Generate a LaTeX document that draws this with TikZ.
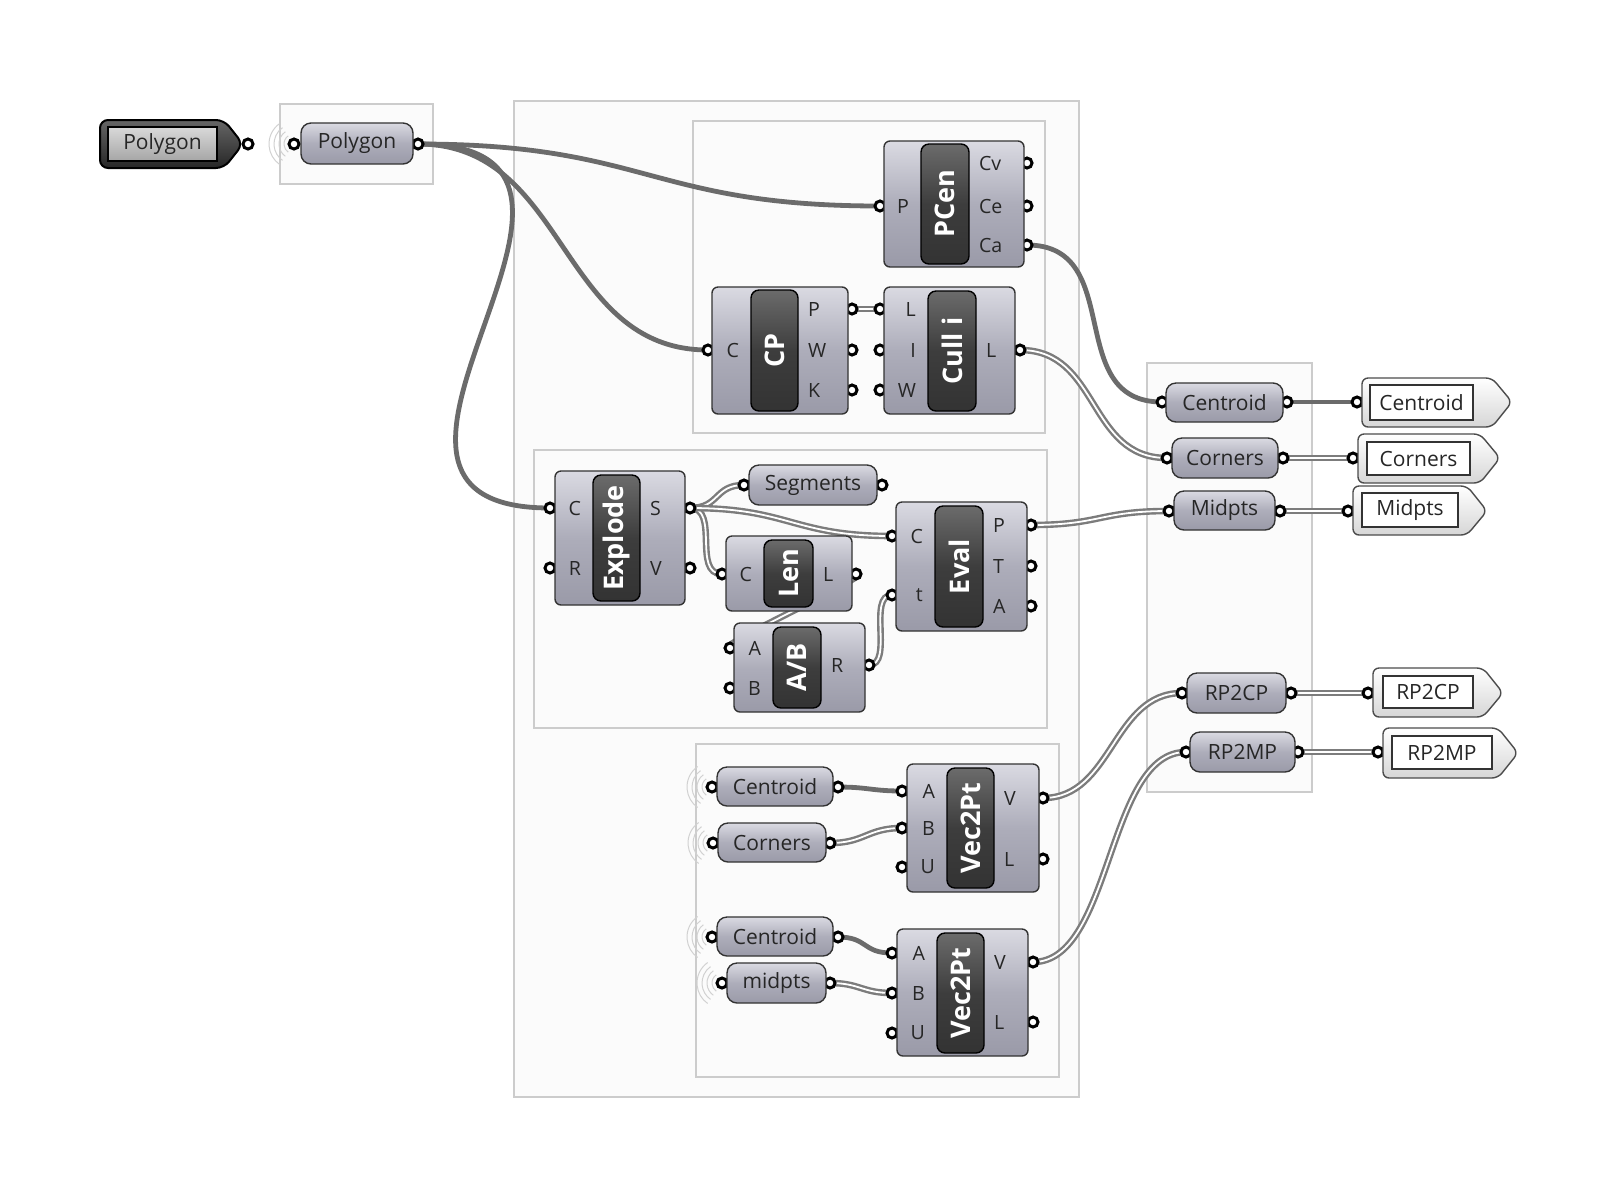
\documentclass[tikz,border=0pt]{standalone}
\usepackage{fontspec}
\setmainfont{Open Sans}
\usetikzlibrary{calc,fit}

\definecolor{ghtop}{HTML}{DADAE2}
\definecolor{ghmid}{HTML}{ADADBA}
\definecolor{ghbot}{HTML}{9A9AA8}
\definecolor{wiregray}{HTML}{6B6B6B}
\definecolor{listgray}{HTML}{7C7C7C}

\pgfdeclarelayer{groups}
\pgfdeclarelayer{wires}
\pgfsetlayers{groups,wires,main}

\newcommand\ghport[2]{\coordinate (#1) at (#2); \draw[port] (#1) circle (2.5pt);}
\newcommand\ghcomp[4]{%
  \node[comp, fit={#2}] (#1) {};
  \node[core, fit={#3}] (#1-c) {};
  \node[ctitle] (#1-t) at (#1-c.center) {#4};}
\newcommand\ghparam[3]{\node[param, fit={#2}, label={[ptext]center:#3}] (#1) {};}
\newcommand\ghin[3]{\node[plabel, anchor=east, xshift=-5.5pt] (#2-l) at (#1-c.west |- #2) {#3};}
\newcommand\ghout[3]{\node[plabel, anchor=west, xshift=4.5pt] (#2-l) at (#1-c.east |- #2) {#3};}
\newcommand\ghrings[1]{\foreach \r in {5,7.5,10,12.5} \draw[ring] ($(#1)+(125:\r pt)$) arc (125:235:\r pt);}

\begin{document}
\begin{tikzpicture}[x=0.5pt, y=-0.5pt,
    grp/.style={draw=black!20, line width=0.8pt, fill=black!1.5},
    comp/.style={draw=black!80, line width=0.7pt, rounded corners=3pt, inner sep=0pt,
      top color=ghtop, bottom color=ghbot, middle color=ghmid},
    param/.style={comp, rounded corners=5pt},
    ptext/.style={inner sep=0pt, text=black!85, font=\fontsize{10.5}{12}\selectfont},
    core/.style={draw=black, line width=0.7pt, rounded corners=4pt, inner sep=0pt,
      top color=black!58, bottom color=black!80, middle color=black!76},
    ctitle/.style={rotate=90, text=white, inner sep=0pt, font=\bfseries\fontsize{13.5}{14}\selectfont},
    plabel/.style={inner sep=0pt, text=black!85, font=\fontsize{9.8}{10}\selectfont},
    port/.style={draw=black, line width=1.5pt, fill=white},
    ring/.style={draw=black!18, line width=0.5pt},
    wire/.style={draw=wiregray, line width=2.4pt},
    lwire/.style={draw=listgray, line width=1.2pt, double=white, double distance=0.9pt},
    src/.style={draw=black, line width=1pt, rounded corners=4pt, top color=black!60, bottom color=black!85},
    srcbox/.style={draw=black, line width=0.8pt, inner sep=0pt, top color=black!15, bottom color=black!35},
    panel/.style={draw=black!70, line width=0.7pt, rounded corners=3pt, top color=white, bottom color=black!16},
    pbox/.style={draw=black!80, line width=0.6pt, fill=white, inner sep=0pt}]

\useasboundingbox (0,0) rectangle (1622,1196);

\begin{pgfonlayer}{groups}
\fill[white] (0,0) rectangle (1622,1196);
\draw[grp] (280,104) rectangle (433,184);
\draw[grp] (514,101) rectangle (1079,1097);
\draw[grp] (693,121) rectangle (1045,433);
\draw[grp] (534,450) rectangle (1047,728);
\draw[grp] (696,744) rectangle (1059,1077);
\draw[grp] (1147,363) rectangle (1312,792);
\end{pgfonlayer}

% polygon source and parameter
\ghport{Src-out}{248,144}
\draw[src] (100,120) -- (224,120) -- (243,144) -- (224,168) -- (100,168) -- cycle;
\node[srcbox, fit={(108,127) (217,161)}, label={[ptext]center:Polygon}] (Src) {};

\ghrings{294,144}
\ghport{PolyP-in}{294,144}
\ghport{PolyP-out}{418,144}
\ghparam{PolyP}{(301,123) (413,164)}{Polygon}

% top group
\ghport{PCen-P}{880,206}
\ghport{PCen-Cv}{1027,163}
\ghport{PCen-Ce}{1027,206}
\ghport{PCen-Ca}{1027,245}
\ghcomp{PCen}{(884,141) (1024,267)}{(921,144) (969,264)}{PCen}
\ghin{PCen}{PCen-P}{P}
\ghout{PCen}{PCen-Cv}{Cv}
\ghout{PCen}{PCen-Ce}{Ce}
\ghout{PCen}{PCen-Ca}{Ca}

\ghport{CP-C}{708,350}
\ghport{CP-P}{852,309}
\ghport{CP-W}{852,350}
\ghport{CP-K}{852,390}
\ghcomp{CP}{(712,287) (848,414)}{(751,290) (798,411)}{CP}
\ghin{CP}{CP-C}{C}
\ghout{CP}{CP-P}{P}
\ghout{CP}{CP-W}{W}
\ghout{CP}{CP-K}{K}

\ghport{Cull-L}{880,309}
\ghport{Cull-I}{880,350}
\ghport{Cull-W}{880,390}
\ghport{Cull-Lo}{1020,350}
\ghcomp{Cull}{(884,287) (1015,414)}{(928,291) (976,411)}{Cull i}
\ghin{Cull}{Cull-L}{L}
\ghin{Cull}{Cull-I}{I}
\ghin{Cull}{Cull-W}{W}
\ghout{Cull}{Cull-Lo}{L}

% middle group
\ghport{Exp-C}{550,508}
\ghport{Exp-R}{550,568}
\ghport{Exp-S}{690,508}
\ghport{Exp-V}{690,568}
\ghcomp{Exp}{(555,471) (685,605)}{(593,475) (640,601)}{Explode}
\ghin{Exp}{Exp-C}{C}
\ghin{Exp}{Exp-R}{R}
\ghout{Exp}{Exp-S}{S}
\ghout{Exp}{Exp-V}{V}

\ghport{Seg-in}{744,485}
\ghport{Seg-out}{882,485}
\ghparam{Seg}{(749,465) (877,505)}{Segments}

\ghport{Len-C}{722,574}
\ghport{Len-L}{856,574}
\ghcomp{Len}{(726,536) (852,611)}{(764,540) (813,607)}{Len}
\ghin{Len}{Len-C}{C}
\ghout{Len}{Len-L}{L}

\ghport{AB-A}{730,648}
\ghport{AB-B}{730,688}
\ghport{AB-R}{869,665}
\ghcomp{AB}{(734,623) (865,712)}{(773,627) (821,708)}{A/B}
\ghin{AB}{AB-A}{A}
\ghin{AB}{AB-B}{B}
\ghout{AB}{AB-R}{R}

\ghport{Eval-Cin}{892,536}
\ghport{Eval-tin}{892,595}
\ghport{Eval-Pout}{1031,525}
\ghport{Eval-Tout}{1031,566}
\ghport{Eval-Aout}{1031,606}
\ghcomp{Eval}{(896,502) (1027,631)}{(935,506) (983,627)}{Eval}
\ghin{Eval}{Eval-Cin}{C}
\ghin{Eval}{Eval-tin}{t}
\ghout{Eval}{Eval-Pout}{P}
\ghout{Eval}{Eval-Tout}{T}
\ghout{Eval}{Eval-Aout}{A}

% bottom group
\ghrings{712,787}
\ghport{Cen1-in}{712,787}
\ghport{Cen1-out}{838,787}
\ghparam{Cen1}{(717,767) (833,806)}{Centroid}

\ghrings{713,843}
\ghport{Cor1-in}{713,843}
\ghport{Cor1-out}{830,843}
\ghparam{Cor1}{(718,823) (826,862)}{Corners}

\ghport{V1-A}{902,791}
\ghport{V1-B}{902,828}
\ghport{V1-U}{902,867}
\ghport{V1-V}{1043,798}
\ghport{V1-L}{1043,859}
\ghcomp{V1}{(907,764) (1039,892)}{(947,768) (994,888)}{Vec2Pt}
\ghin{V1}{V1-A}{A}
\ghin{V1}{V1-B}{B}
\ghin{V1}{V1-U}{U}
\ghout{V1}{V1-V}{V}
\ghout{V1}{V1-L}{L}

\ghrings{712,937}
\ghport{Cen2-in}{712,937}
\ghport{Cen2-out}{838,937}
\ghparam{Cen2}{(717,917) (833,956)}{Centroid}

\ghrings{722,983}
\ghport{Mid2-in}{722,983}
\ghport{Mid2-out}{830,983}
\ghparam{Mid2}{(727,963) (826,1003)}{midpts}

\ghport{V2-A}{892,953}
\ghport{V2-B}{892,993}
\ghport{V2-U}{892,1033}
\ghport{V2-V}{1033,962}
\ghport{V2-L}{1033,1022}
\ghcomp{V2}{(897,929) (1028,1056)}{(937,933) (984,1053)}{Vec2Pt}
\ghin{V2}{V2-A}{A}
\ghin{V2}{V2-B}{B}
\ghin{V2}{V2-U}{U}
\ghout{V2}{V2-V}{V}
\ghout{V2}{V2-L}{L}

% right group
\ghport{RCen-in}{1162,402}
\ghport{RCen-out}{1287,402}
\ghparam{RCen}{(1166,383) (1283,422)}{Centroid}
\ghport{RCor-in}{1167,458}
\ghport{RCor-out}{1283,458}
\ghparam{RCor}{(1172,438) (1278,478)}{Corners}
\ghport{RMid-in}{1169,511}
\ghport{RMid-out}{1280,511}
\ghparam{RMid}{(1174,491) (1275,530)}{Midpts}
\ghport{RCP-in}{1182,693}
\ghport{RCP-out}{1291,693}
\ghparam{RCP}{(1187,673) (1286,713)}{RP2CP}
\ghport{RMP-in}{1186,752}
\ghport{RMP-out}{1298,752}
\ghparam{RMP}{(1190,732) (1295,772)}{RP2MP}

% panels
\ghport{PnCen-in}{1357,402}
\draw[panel] (1362,378) -- (1492,378) -- (1512,402) -- (1492,427) -- (1362,427) -- cycle;
\node[pbox, fit={(1370,385) (1473,420)}, label={[ptext]center:Centroid}] (PnCen) {};
\ghport{PnCor-in}{1353,458}
\draw[panel] (1358,434) -- (1480,434) -- (1500,458) -- (1480,483) -- (1358,483) -- cycle;
\node[pbox, fit={(1367,442) (1470,475)}, label={[ptext]center:Corners}] (PnCor) {};
\ghport{PnMid-in}{1348,511}
\draw[panel] (1353,486) -- (1467,486) -- (1487,511) -- (1467,535) -- (1353,535) -- cycle;
\node[pbox, fit={(1362,493) (1458,527)}, label={[ptext]center:Midpts}] (PnMid) {};
\ghport{PnCP-in}{1368,693}
\draw[panel] (1373,668) -- (1483,668) -- (1503,693) -- (1483,717) -- (1373,717) -- cycle;
\node[pbox, fit={(1383,676) (1473,708)}, label={[ptext]center:RP2CP}] (PnCP) {};
\ghport{PnMP-in}{1378,752}
\draw[panel] (1383,728) -- (1498,728) -- (1518,753) -- (1498,778) -- (1383,778) -- cycle;
\node[pbox, fit={(1392,736) (1492,769)}, label={[ptext]center:RP2MP}] (PnMP) {};

\begin{pgfonlayer}{wires}
\draw[wire] (PolyP-out) .. controls +(230,0) and +(-230,0) .. (PCen-P);
\draw[wire] (PolyP-out) .. controls +(150,0) and +(-150,0) .. (CP-C);
\draw[wire] (PolyP-out) .. controls +(260,0) and +(-260,0) .. (Exp-C);
\draw[wire] (PCen-Ca) .. controls +(100,0) and +(-100,0) .. (RCen-in);
\draw[lwire] (CP-P) -- (Cull-L);
\draw[lwire] (Cull-Lo) .. controls +(80,0) and +(-80,0) .. (RCor-in);
\draw[lwire] (Exp-S) .. controls +(30,0) and +(-30,0) .. (Seg-in);
\draw[lwire] (Exp-S) .. controls +(30,0) and +(-30,0) .. (Len-C);
\draw[lwire] (Exp-S) .. controls +(100,0) and +(-100,0) .. (Eval-Cin);
\draw[lwire] (Len-L) .. controls +(20,0) and +(-20,0) .. (AB-A);
\draw[lwire] (AB-R) .. controls +(25,0) and +(-25,0) .. (Eval-tin);
\draw[lwire] (Eval-Pout) .. controls +(70,0) and +(-70,0) .. (RMid-in);
\draw[wire] (Cen1-out) .. controls +(30,0) and +(-30,0) .. (V1-A);
\draw[lwire] (Cor1-out) .. controls +(35,0) and +(-35,0) .. (V1-B);
\draw[lwire] (V1-V) .. controls +(70,0) and +(-70,0) .. (RCP-in);
\draw[wire] (Cen2-out) .. controls +(30,0) and +(-30,0) .. (V2-A);
\draw[lwire] (Mid2-out) .. controls +(30,0) and +(-30,0) .. (V2-B);
\draw[lwire] (V2-V) .. controls +(80,0) and +(-80,0) .. (RMP-in);
\draw[wire] (RCen-out) -- (PnCen-in);
\draw[lwire] (RCor-out) -- (PnCor-in);
\draw[lwire] (RMid-out) -- (PnMid-in);
\draw[lwire] (RCP-out) -- (PnCP-in);
\draw[lwire] (RMP-out) -- (PnMP-in);
\end{pgfonlayer}
\end{tikzpicture}
\end{document}
